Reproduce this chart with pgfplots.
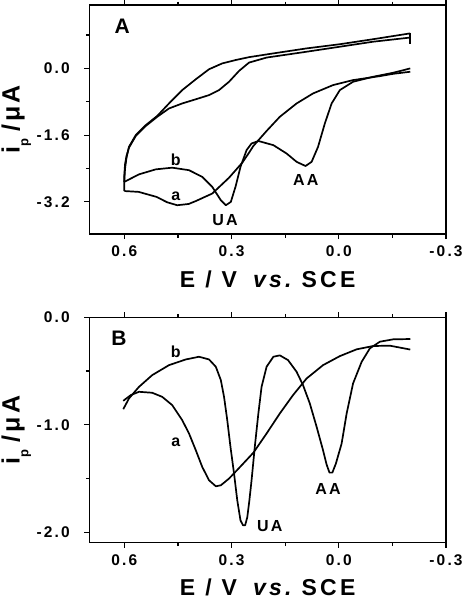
\documentclass[border=0pt]{standalone}
\usepackage{fontspec}
\setmainfont{Liberation Sans}
\newfontfamily\spfont[LetterSpace=14]{Liberation Sans}
\usepackage{pgfplots}
\pgfplotsset{compat=1.18}
\tikzset{lab/.style={font=\spfont\bfseries\fontsize{16}{18}\selectfont}}
\pgfplotsset{
 myaxis/.style={
  scale only axis, width=356.7pt, x dir=reverse, xmin=-0.3, xmax=0.698,
  axis line style={line width=1.3pt},
  tick style={line width=1.2pt, black},
  tick align=outside, xtick pos=both, ytick pos=left,
  major tick length=5pt, minor tick length=3.5pt,
  xtick={0.6,0.3,0,-0.3}, xticklabels={0.6,0.3,0.0,-0.3},
  minor xtick={0.45,0.15,-0.15},
  ticklabel style={font=\spfont\bfseries\fontsize{15.5}{18}\selectfont},
  yticklabel style={xshift=-11pt},
  xticklabel style={yshift=-3pt},
  cycle list={{black, mark=none, smooth, tension=0.5}},
  every axis plot post/.append style={line width=1.7pt, line join=round},
  xlabel={E\hspace{10pt}/\hspace{10pt}V\hspace{16pt}\textit{vs.}\hspace{7pt}SCE},
  xlabel style={font=\spfont\bfseries\fontsize{23}{26}\selectfont, at={(axis description cs:0.5,0)}, anchor=base, yshift=-53pt},
  ylabel={i\raisebox{-0.35em}{\fontsize{13}{13}\selectfont p}\hspace{7pt}/\hspace{3pt}μ\hspace{3pt}A},
  ylabel style={font=\bfseries\fontsize{25}{28}\selectfont, at={(axis description cs:-0.205,0.5)}, anchor=center},
 }}
\begin{document}
\begin{tikzpicture}
\path[use as bounding box] (0pt,0pt) rectangle (466pt,-600pt);
% ---------------- Panel A ----------------
\begin{axis}[myaxis, at={(89.3pt,-234pt)}, anchor=south west, height=229pt,
  ymin=-3.97, ymax=1.52,
  ytick={0,-1.6,-3.2}, yticklabels={0.0,-1.6,-3.2},
  minor ytick={0.8,-0.8,-2.4}]
% curve a, anodic branch
\addplot coordinates {(-0.2,-0.08) (-0.152,-0.13) (-0.115,-0.185) (-0.04,-0.28) (0.016,-0.40) (0.072,-0.60) (0.118,-0.84) (0.165,-1.16) (0.202,-1.50) (0.239,-1.86) (0.251,-2.02) (0.27,-2.26) (0.307,-2.62) (0.354,-3.00) (0.40,-3.18) (0.42,-3.25) (0.452,-3.28) (0.48,-3.21) (0.51,-3.08) (0.56,-2.96) (0.600,-2.94)};
% curve a, return branch
\addplot coordinates {(0.600,-2.94) (0.600,-2.70) (0.598,-2.40) (0.594,-2.15) (0.587,-1.88) (0.568,-1.60) (0.540,-1.36) (0.508,-1.14) (0.475,-0.84) (0.438,-0.52) (0.40,-0.26) (0.363,-0.02) (0.326,0.12) (0.289,0.20) (0.251,0.27) (0.183,0.36) (0.090,0.48) (-0.003,0.58) (-0.096,0.70) (-0.2,0.84)};
\addplot coordinates {(-0.2,0.84) (-0.2,0.58)};
% curve b, anodic branch
\addplot coordinates {(-0.2,0.0) (-0.152,-0.105) (-0.096,-0.20) (-0.040,-0.32) (-0.003,-0.52) (0.020,-0.84) (0.039,-1.32) (0.058,-1.88) (0.076,-2.24) (0.093,-2.34) (0.118,-2.24) (0.146,-2.04) (0.183,-1.84) (0.225,-1.74) (0.244,-1.80) (0.258,-1.96) (0.275,-2.36) (0.289,-2.84) (0.302,-3.20) (0.316,-3.28) (0.330,-3.16) (0.354,-2.84) (0.382,-2.60) (0.419,-2.44) (0.466,-2.38) (0.512,-2.42) (0.559,-2.54) (0.600,-2.72)};
% curve b, return branch
\addplot coordinates {(0.600,-2.72) (0.600,-2.55) (0.598,-2.30) (0.594,-2.10) (0.587,-1.90) (0.568,-1.62) (0.540,-1.38) (0.508,-1.16) (0.475,-0.96) (0.438,-0.84) (0.400,-0.74) (0.363,-0.64) (0.335,-0.52) (0.307,-0.32) (0.279,-0.06) (0.251,0.14) (0.202,0.26) (0.090,0.40) (-0.003,0.52) (-0.096,0.64) (-0.2,0.74)};
\node[font=\bfseries\fontsize{21}{24}\selectfont] at (axis cs:0.606,1.01) {A};
\node[lab] at (axis cs:0.456,-2.18) {b};
\node[lab] at (axis cs:0.456,-3.06) {a};
\node[lab] at (axis cs:0.318,-3.64) {UA};
\node[lab] at (axis cs:0.092,-2.68) {AA};
\end{axis}
% ---------------- Panel B ----------------
\begin{axis}[myaxis, at={(89.3pt,-542.7pt)}, anchor=south west, height=225.4pt,
  ymin=-2.097, ymax=0,
  ytick={0,-1,-2}, yticklabels={0.0,-1.0,-2.0},
  minor ytick={-0.5,-1.5}]
% curve a
\addplot coordinates {(0.603,-0.777) (0.582,-0.724) (0.559,-0.693) (0.522,-0.702) (0.494,-0.740) (0.466,-0.817) (0.438,-0.957) (0.419,-1.081) (0.400,-1.237) (0.382,-1.392) (0.363,-1.516) (0.344,-1.572) (0.330,-1.563) (0.307,-1.50) (0.284,-1.42) (0.239,-1.26) (0.202,-1.081) (0.165,-0.895) (0.128,-0.724) (0.090,-0.569) (0.044,-0.445) (-0.003,-0.361) (-0.050,-0.298) (-0.096,-0.267) (-0.143,-0.264) (-0.2,-0.30)};
% curve b
\addplot coordinates {(0.603,-0.855) (0.587,-0.755) (0.559,-0.647) (0.522,-0.538) (0.475,-0.445) (0.428,-0.392) (0.391,-0.367) (0.363,-0.392) (0.344,-0.460) (0.330,-0.584) (0.321,-0.740) (0.312,-0.957) (0.303,-1.206) (0.293,-1.454) (0.284,-1.703) (0.275,-1.889) (0.268,-1.935) (0.262,-1.935) (0.256,-1.86) (0.250,-1.70) (0.244,-1.516) (0.235,-1.206) (0.225,-0.895) (0.216,-0.647) (0.202,-0.460) (0.183,-0.367) (0.165,-0.354) (0.142,-0.398) (0.118,-0.507) (0.100,-0.631) (0.081,-0.802) (0.062,-1.019) (0.044,-1.237) (0.034,-1.37) (0.026,-1.445) (0.018,-1.445) (0.008,-1.36) (-0.008,-1.174) (-0.022,-0.895) (-0.040,-0.615) (-0.064,-0.414) (-0.087,-0.289) (-0.115,-0.227) (-0.152,-0.205) (-0.2,-0.202)};
\node[font=\bfseries\fontsize{21}{24}\selectfont] at (axis cs:0.615,-0.196) {B};
\node[lab] at (axis cs:0.456,-0.32) {b};
\node[lab] at (axis cs:0.456,-1.16) {a};
\node[lab] at (axis cs:0.193,-1.94) {UA};
\node[lab] at (axis cs:0.030,-1.594) {AA};
\end{axis}
\end{tikzpicture}
\end{document}
